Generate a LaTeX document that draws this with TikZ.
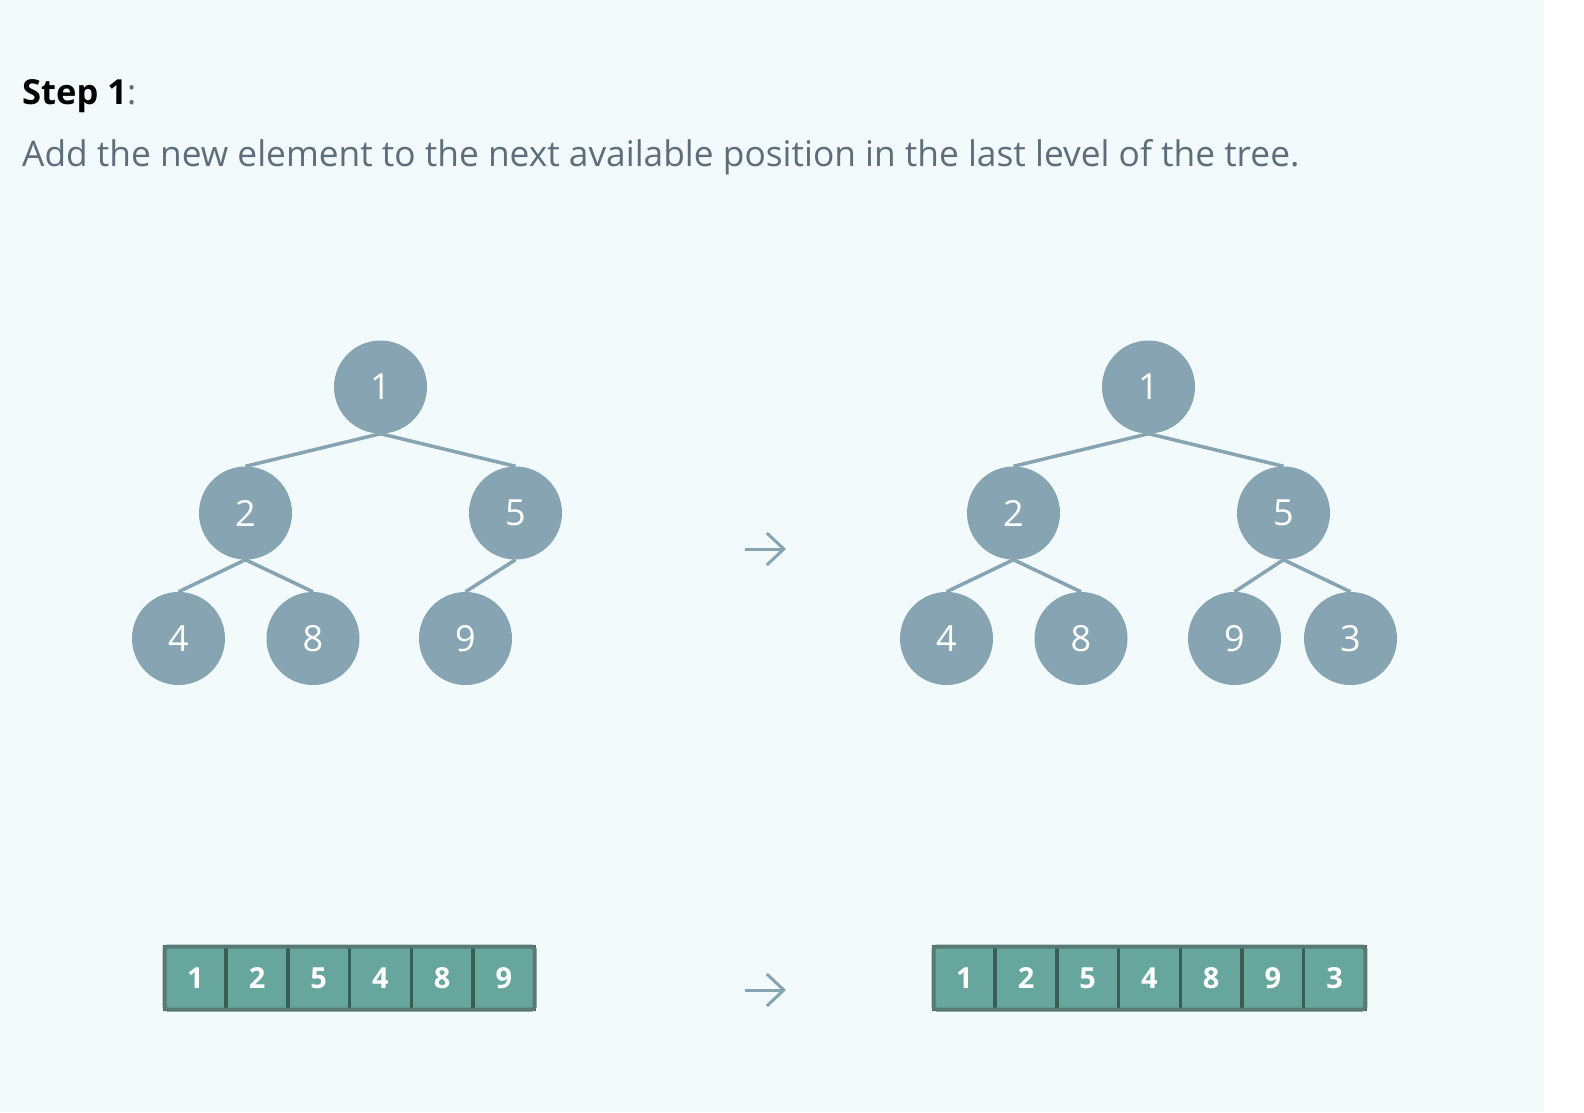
\documentclass[tikz,border=0pt]{standalone}
\usepackage{fontspec}
\setmainfont{Open Sans}
\usetikzlibrary{positioning, arrows.meta, fit, backgrounds}

\definecolor{pagebg}{RGB}{242,250,252}
\definecolor{nodegray}{RGB}{134,164,177}
\definecolor{textgray}{RGB}{95,108,122}
\definecolor{cellfill}{RGB}{103,166,156}
\definecolor{celldraw}{RGB}{56,94,84}
\definecolor{cellframe}{RGB}{88,122,114}

\begin{document}
\begin{tikzpicture}[
  x=1pt, y=-1pt,
  heapnode/.style={circle, fill=nodegray, minimum size=93pt, inner sep=0pt, text=white, font=\fontsize{36}{36}\selectfont},
  edge/.style={draw=nodegray, line width=3.5pt},
  cell/.style={draw=celldraw, line width=3.5pt, fill=cellfill, minimum width=61.7pt, minimum height=63pt, inner sep=0pt, text=white, font=\bfseries\fontsize{29}{29}\selectfont},
  frame/.style={draw=cellframe, line width=4pt, rounded corners=3pt, inner sep=-1.75pt},
  flow/.style={-{Straight Barb[length=17pt, width=32pt]}, draw=nodegray, line width=3pt}
]

% Page
\fill[white] (0,0) rectangle (1584,1112);
\fill[pagebg] (0,0) rectangle (1544,1112);
\useasboundingbox (0,0) rectangle (1584,1112);

% Heading
\node[anchor=base west, inner sep=0pt, font=\bfseries\fontsize{34.5}{34.5}\selectfont] (title) at (22,104)
  {Step 1\textcolor{textgray}{\mdseries:}};
\node[anchor=base west, inner sep=0pt, text=textgray, font=\fontsize{35.3}{35.3}\selectfont] (desc) at (22,166)
  {Add the new element to the next available position in the last level of the tree.};

% Tree before insertion
\node[heapnode] (l1) at (380.5,387) {1};
\node[heapnode] (l2) at (245.5,513) {2};
\node[heapnode] (l5) at (515.5,513) {5};
\node[heapnode] (l4) at (178.5,638.5) {4};
\node[heapnode] (l8) at (313,638.5) {8};
\node[heapnode] (l9) at (465.5,638.5) {9};

\draw[edge] (l1.south) -- (l2.north);
\draw[edge] (l1.south) -- (l5.north);
\draw[edge] (l2.south) -- (l4.north);
\draw[edge] (l2.south) -- (l8.north);
\draw[edge] (l5.south) -- (l9.north);

% Tree after insertion
\node[heapnode] (r1) at (1148.5,387) {1};
\node[heapnode] (r2) at (1013.5,513) {2};
\node[heapnode] (r5) at (1283.5,513) {5};
\node[heapnode] (r4) at (946.5,638.5) {4};
\node[heapnode] (r8) at (1081,638.5) {8};
\node[heapnode] (r9) at (1234.5,638.5) {9};
\node[heapnode] (r3) at (1350.5,638.5) {3};

\draw[edge] (r1.south) -- (r2.north);
\draw[edge] (r1.south) -- (r5.north);
\draw[edge] (r2.south) -- (r4.north);
\draw[edge] (r2.south) -- (r8.north);
\draw[edge] (r5.south) -- (r9.north);
\draw[edge] (r5.south) -- (r3.north);

% Arrays
\foreach \v [count=\i] in {1,2,5,4,8,9} {
  \node[cell] (la-\i) at (195.35+61.7*\i-61.7, 978) {\v};
}
\node[frame, fit=(la-1)(la-6)] (larray) {};

\foreach \v [count=\i] in {1,2,5,4,8,9,3} {
  \node[cell] (ra-\i) at (964.35+61.7*\i-61.7, 978) {\v};
}
\node[frame, fit=(ra-1)(ra-7)] (rarray) {};

% Transition arrows
\coordinate (tree-from) at (745,549);
\coordinate (tree-to) at (786,549);
\coordinate (array-from) at (745,990);
\coordinate (array-to) at (786,990);
\draw[flow] (tree-from) -- (tree-to);
\draw[flow] (array-from) -- (array-to);

\end{tikzpicture}
\end{document}
